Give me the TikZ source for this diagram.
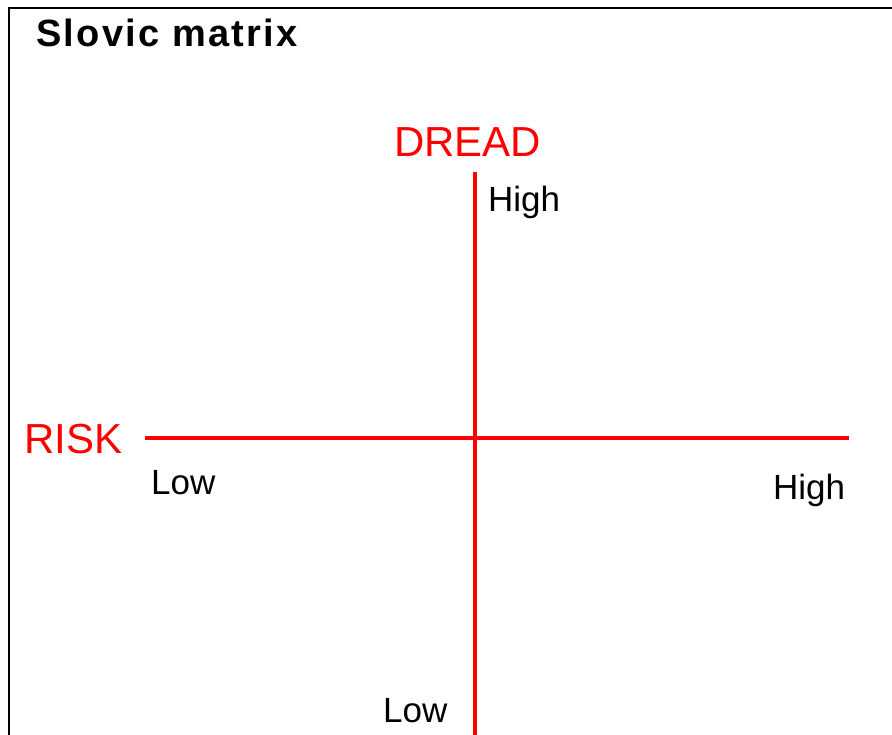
\documentclass[tikz,border=0pt]{standalone}
\usepackage{fontspec}
\setmainfont{Liberation Sans}
\begin{document}
\begin{tikzpicture}[x=1pt,y=-1pt,
  lbl/.style={inner sep=0pt,anchor=base west,font=\fontsize{35}{35}\selectfont},
  axlbl/.style={inner sep=0pt,anchor=base west,text=red,font=\fontsize{42}{42}\selectfont},
  axis/.style={draw=red,line width=4pt},
  frame/.style={draw=black,line width=2pt}]
\useasboundingbox (0,0) rectangle (892,735);
\coordinate (fc) at (9,8);
\coordinate (ftr) at (892,8);
\coordinate (fbl) at (9,735);
\draw[frame] (ftr) -- (fc) -- (fbl);
\node[inner sep=0pt,anchor=base west,font=\bfseries\fontsize{38}{38}\selectfont\addfontfeature{LetterSpace=6}] (title) at (36,47) {Slovic matrix};
\coordinate (vt) at (475,172);
\coordinate (vb) at (475,735);
\coordinate (hl) at (145,438);
\coordinate (hr) at (849,438);
\draw[axis] (vt) -- (vb);
\draw[axis,line width=3.5pt] (hl) -- (hr);
\node[axlbl] (dread) at (394,157) {DREAD};
\node[axlbl] (risk) at (24,453) {RISK};
\node[lbl] (dhigh) at (488,212) {High};
\node[lbl] (dlow) at (383,722) {Low};
\node[lbl] (rlow) at (151,494) {Low};
\node[lbl] (rhigh) at (773,499) {High};
\end{tikzpicture}
\end{document}
